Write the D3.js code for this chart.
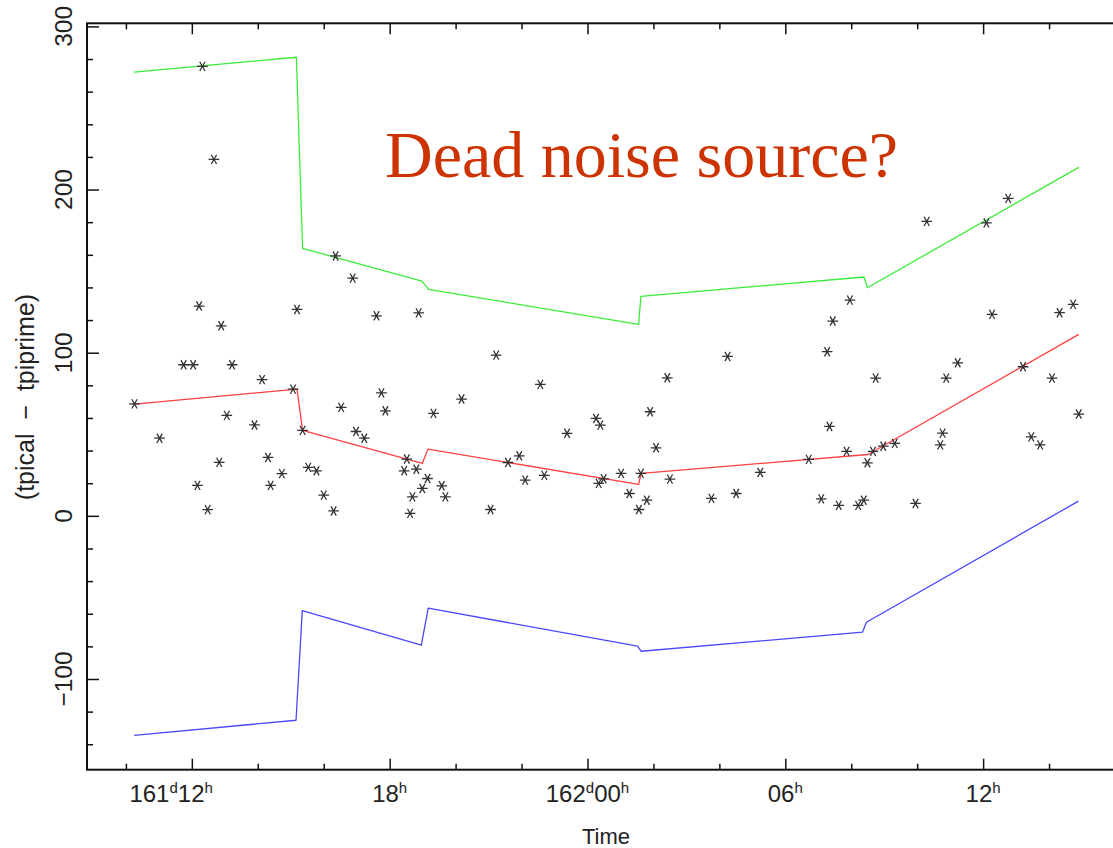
<!DOCTYPE html>
<html>
<head>
<meta charset="utf-8">
<script src="https://cdn.jsdelivr.net/npm/d3@7"></script>
<style>
  html, body { margin: 0; padding: 0; background: #fff; }
  svg { display: block; }
</style>
</head>
<body>
<svg id="chart" width="1113" height="848"></svg>
<script>
// ---------- data (time in hours since day 161 00h) ----------
const pointHours = [
  12.32, 12.67, 12.22, 12.89, 11.75, 12.04, 13.22, 14.13, 15.07, 15.19,
  10.26, 13.06, 13.90, 11.02, 14.31, 12.83, 14.73, 12.17, 14.39, 12.48,
  15.36, 15.53, 15.78, 16.00, 16.30, 16.53, 16.36, 16.88, 17.60, 18.88,
  21.23, 22.57, 17.75, 17.87, 20.18, 19.33, 23.38, 16.98, 17.23, 18.52,
  21.93, 21.59, 18.44, 18.81, 19.15, 22.11, 22.69, 19.58, 18.99, 18.69,
  19.69, 18.62, 21.06, 28.25, 26.42, 25.90, 24.26, 24.39, 26.08, 25.02,
  25.62, 29.24, 24.49, 24.34, 26.50, 25.27, 25.80, 27.76, 28.51, 25.56,
  36.76, 34.29, 36.10, 31.96, 31.44, 36.27, 38.32, 38.73, 31.27, 35.23,
  34.88, 32.74, 37.21, 38.09, 38.90, 31.34, 34.77, 34.70, 37.46, 37.73,
  30.71, 31.86, 32.66, 32.97, 33.32, 32.49, 31.09, 31.62, 32.21, 32.38,
  33.95
];
const pointValues = [
  275.5, 218.5, 128.6, 116.5, 92.6, 92.6, 92.6, 83.5, 77.7, 126.5,
  68.6, 61.6, 55.7, 47.6, 35.8, 32.8, 25.9, 18.7, 18.7, 3.8,
  52.4, 29.7, 27.6, 12.7, 3.0, 66.5, 159.3, 145.7, 122.6, 124.4,
  98.5, 80.6, 75.4, 64.4, 71.6, 62.8, 50.6, 51.7, 47.6, 34.8,
  36.8, 32.7, 27.6, 28.6, 22.9, 21.9, 24.8, 18.4, 16.8, 11.6,
  11.6, 1.5, 3.9, 97.7, 84.6, 63.8, 59.7, 55.6, 41.7, 26.0,
  26.0, 26.6, 22.7, 19.9, 22.5, 13.7, 9.6, 10.7, 13.7, 3.9,
  194.6, 180.5, 179.6, 132.2, 119.4, 123.5, 124.5, 129.6, 100.6, 93.8,
  84.4, 84.4, 91.4, 84.4, 62.4, 54.8, 50.7, 43.5, 48.4, 43.5,
  34.6, 39.5, 39.5, 42.7, 44.4, 32.5, 10.4, 6.4, 6.4, 9.6,
  7.6
];

const upperHours  = [10.25, 15.17, 15.36, 18.98, 19.18, 25.55, 25.62, 32.39, 32.49, 38.90];
const upperValues = [272.0, 281.1, 163.9, 143.9, 138.8, 117.4, 134.5, 146.4, 139.8, 213.6];

const meanHours   = [10.26, 15.19, 15.36, 18.99, 19.16, 25.55, 25.63, 32.51, 38.90];
const meanValues  = [68.5, 77.7, 52.4, 32.1, 40.9, 19.3, 26.0, 37.6, 111.2];

const lowerHours  = [10.25, 15.16, 15.35, 18.96, 19.17, 25.52, 25.63, 32.34, 32.46, 38.89];
const lowerValues = [-134.5, -125.3, -58.1, -79.3, -56.6, -79.9, -83.0, -71.3, -65.2, 9.0];

const majorTimeTicks = [12, 18, 24, 30, 36];
const minorTimeTicks = [10, 14, 16, 20, 22, 26, 28, 32, 34, 38, 40];
const timeTickDays   = ["161", "", "162", "", ""];
const timeTickHours  = ["12", "18", "00", "06", "12"];

const majorValueTicks = [-100, 0, 100, 200, 300];
const minorValueTicks = [-140, -120, -80, -60, -40, -20, 20, 40, 60, 80, 120, 140, 160, 180, 220, 240, 260, 280];

const titleText  = "Dead noise source?";
const xTitleText = "Time";
const yTitleText = "(tpical  \u2212  tpiprime)";

(function () {
// ---------- layout ----------
const svg = d3.select("#chart");
const pL = 87, pR = 1115, pT = 23.3, pB = 769.7;

const x = d3.scaleLinear().domain([8.82, 40.0]).range([pL, pR]);
const y = d3.scaleLinear().domain([-155.6, 301.9]).range([pB, pT]);

// frame
svg.append("rect")
  .attr("x", pL).attr("y", pT)
  .attr("width", pR - pL).attr("height", pB - pT)
  .attr("fill", "none").attr("stroke", "#111").attr("stroke-width", 2);

const axisStyle = g => {
  g.select(".domain").remove();
  g.selectAll(".tick line").attr("stroke", "#111").attr("stroke-width", 1.5);
  g.selectAll(".tick text").remove();
};

// bottom axis (inward ticks)
svg.append("g").attr("transform", `translate(0,${pB})`)
  .call(d3.axisBottom(x).tickValues(majorTimeTicks).tickSize(-11)).call(axisStyle);
svg.append("g").attr("transform", `translate(0,${pB})`)
  .call(d3.axisBottom(x).tickValues(minorTimeTicks).tickSize(-6)).call(axisStyle);
// top axis
svg.append("g").attr("transform", `translate(0,${pT})`)
  .call(d3.axisTop(x).tickValues(majorTimeTicks).tickSize(-11)).call(axisStyle);
svg.append("g").attr("transform", `translate(0,${pT})`)
  .call(d3.axisTop(x).tickValues(minorTimeTicks).tickSize(-6)).call(axisStyle);
// left axis
svg.append("g").attr("transform", `translate(${pL},0)`)
  .call(d3.axisLeft(y).tickValues(majorValueTicks).tickSize(-12)).call(axisStyle);
svg.append("g").attr("transform", `translate(${pL},0)`)
  .call(d3.axisLeft(y).tickValues(minorValueTicks).tickSize(-6)).call(axisStyle);

// y tick labels (rotated)
svg.append("g").selectAll("text").data(majorValueTicks).join("text")
  .attr("transform", d => `translate(72,${y(d)}) rotate(-90)`)
  .attr("text-anchor", "middle")
  .attr("font-family", "Liberation Sans, Arial, sans-serif")
  .attr("font-size", 24.5)
  .attr("fill", "#222")
  .text(d => d < 0 ? "\u2212" + Math.abs(d) : d);

// x tick labels with superscripts
const xl = svg.append("g").selectAll("text").data(majorTimeTicks).join("text")
  .attr("x", (d, i) => x(d) + (i === 0 ? 21 : 0))
  .attr("y", 802)
  .attr("text-anchor", (d, i) => i === 0 ? "end" : "middle")
  .attr("font-family", "Liberation Sans, Arial, sans-serif")
  .attr("font-size", 24)
  .attr("fill", "#222");
xl.each(function(d, i) {
  const t = d3.select(this);
  if (timeTickDays[i]) {
    t.append("tspan").text(timeTickDays[i]);
    t.append("tspan").attr("font-size", 15).attr("dy", -9).text("d");
    t.append("tspan").attr("dy", 9).text(timeTickHours[i]);
  } else {
    t.append("tspan").text(timeTickHours[i]);
  }
  t.append("tspan").attr("font-size", 15).attr("dy", -9).text("h");
});

// axis titles
svg.append("text")
  .attr("x", 606).attr("y", 844)
  .attr("text-anchor", "middle")
  .attr("font-family", "Liberation Sans, Arial, sans-serif")
  .attr("font-size", 22).attr("fill", "#222")
  .text(xTitleText);

svg.append("text")
  .attr("transform", `translate(34,397) rotate(-90)`)
  .attr("text-anchor", "middle")
  .attr("font-family", "Liberation Sans, Arial, sans-serif")
  .attr("font-size", 25).attr("fill", "#222")
  .style("white-space", "pre")
  .text(yTitleText);

// lines
const line = d3.line().x(d => x(d[0])).y(d => y(d[1]));
const series = [
  { h: upperHours, v: upperValues, color: "#3aec3a" },
  { h: meanHours,  v: meanValues,  color: "#ff4040" },
  { h: lowerHours, v: lowerValues, color: "#4848ff" }
];
series.forEach(s => {
  svg.append("path")
    .datum(s.h.map((h, i) => [h, s.v[i]]))
    .attr("d", line)
    .attr("fill", "none")
    .attr("stroke", s.color)
    .attr("stroke-width", 1.3)
    .attr("stroke-linejoin", "round");
});

// points (asterisks)
const star = d3.symbol().type(d3.symbolAsterisk).size(80);
svg.append("g").selectAll("path").data(pointHours.map((h, i) => [h, pointValues[i]])).join("path")
  .attr("transform", d => `translate(${x(d[0])},${y(d[1])}) rotate(90)`)
  .attr("d", star)
  .attr("fill", "none")
  .attr("stroke", "#333")
  .attr("stroke-width", 1.3);

// annotation title
svg.append("text")
  .attr("x", 385).attr("y", 177)
  .attr("font-family", "Liberation Serif, Times New Roman, serif")
  .attr("font-size", 66)
  .attr("fill", "#cc3300")
  .text(titleText);
})();
</script>
</body>
</html>
